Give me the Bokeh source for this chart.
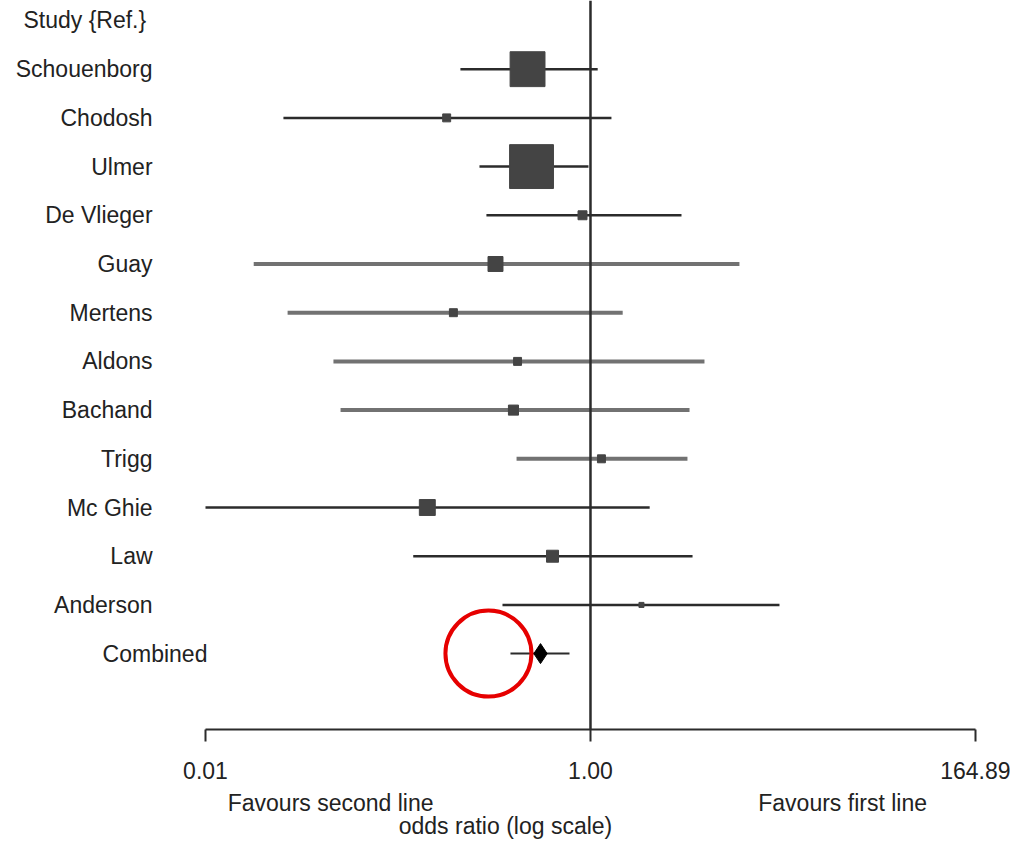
import numpy as np
from bokeh.plotting import figure
from bokeh.models import Range1d, LinearAxis, FixedTicker, Span, ColumnDataSource
from bokeh.core.properties import value
from bokeh.embed import file_html
from bokeh.resources import INLINE

# ---------------- data ----------------
header_label = "Study  {Ref.}"
studies = ["Schouenborg", "Chodosh", "Ulmer", "De Vlieger", "Guay", "Mertens",
           "Aldons", "Bachand", "Trigg", "Mc Ghie", "Law", "Anderson"]
odds_ratio = [0.471, 0.179, 0.494, 0.909, 0.321, 0.194, 0.418, 0.398, 1.14, 0.142, 0.635, 1.84]
ci_lower = [0.211, 0.0254, 0.265, 0.288, 0.0178, 0.0267, 0.0462, 0.0503, 0.413, 0.010, 0.120, 0.349]
ci_upper = [1.09, 1.285, 0.976, 2.97, 5.94, 1.47, 3.91, 3.27, 3.19, 2.03, 3.39, 9.59]
weight_pct = [28.8, 1.5, 45.6, 1.9, 5.3, 1.5, 1.5, 2.4, 1.5, 6.0, 3.4, 0.6]

combined_label = "Combined"
combined_or = 0.55
combined_lower = 0.384
combined_upper = 0.778

highlight_or = 0.295  # red circle annotation, on the "Combined" row

axis_tick_log10 = [-2, 0, 2]
axis_tick_labels = ["0.01", "1.00", "164.89"]
side_label_log10 = [-1.35, 1.31]
side_labels = ["Favours second line", "Favours first line"]
axis_title = "odds ratio (log scale)"

gray_studies = ["Guay", "Mertens", "Aldons", "Bachand", "Trigg"]

# ---------------- derived ----------------
n = len(studies)
rows = list(range(1, n + 1))
combined_row = n + 1

FONT = "Liberation Sans"
FS = "23px"
DARK = "#2b2b2b"
GRAY = "#727272"
TXT = "#222222"

src = ColumnDataSource(dict(
    study=studies,
    y=rows,
    est=np.log10(odds_ratio),
    lo=np.log10(ci_lower),
    hi=np.log10(ci_upper),
    size=6.5 * np.sqrt(weight_pct),
    color=[GRAY if s in gray_studies else DARK for s in studies],
    width=[4 if s in gray_studies else 2.5 for s in studies],
))

p = figure(width=1010, height=841, output_backend="svg", toolbar_location=None,
           x_range=Range1d(-3.065, 2.182), y_range=Range1d(14.558, -0.41),
           min_border_left=0, min_border_right=0, min_border_top=0, min_border_bottom=111,
           x_axis_location=None, y_axis_location=None)
p.outline_line_color = None
p.grid.visible = False
p.background_fill_color = "white"
p.border_fill_color = "white"

# reference line at OR = 1
p.add_layout(Span(location=0, dimension="height", line_color=DARK, line_width=2.5))

# CI lines
p.segment(x0="lo", x1="hi", y0="y", y1="y", line_color="color", line_width="width", source=src)
# study boxes
p.scatter(x="est", y="y", size="size", marker="square", fill_color="#444444",
          line_color="#444444", line_width=1, source=src)

# combined
p.segment(x0=[np.log10(combined_lower)], x1=[np.log10(combined_upper)],
          y0=[combined_row], y1=[combined_row], line_color=DARK, line_width=2)
p.scatter(x=[np.log10(combined_or)], y=[combined_row], size=20, marker="diamond",
          fill_color="black", line_color="black")

# labels
p.text(x=[-2.275] * n, y=rows, text=studies, text_align="right", text_baseline="middle",
       text_font=value(FONT), text_font_size=FS, text_color=TXT)
p.text(x=[-2.275], y=[0], text=[header_label], text_align="right", text_baseline="middle",
       text_font=value(FONT), text_font_size=FS, text_color=TXT)
p.text(x=[-1.99], y=[combined_row], text=[combined_label], text_align="right", text_baseline="middle",
       text_font=value(FONT), text_font_size=FS, text_color=TXT)

# red highlight circle
p.scatter(x=[np.log10(highlight_or)], y=[combined_row], size=86, marker="circle",
          fill_color=None, line_color="#e60000", line_width=4)

# main axis
ax = LinearAxis(ticker=FixedTicker(ticks=axis_tick_log10), bounds=(-2, 2))
ax.major_label_overrides = {t: l for t, l in zip(axis_tick_log10, axis_tick_labels)}
ax.axis_line_color = DARK
ax.axis_line_width = 2
ax.major_tick_line_color = DARK
ax.major_tick_line_width = 2
ax.major_tick_out = 12
ax.major_tick_in = 0
ax.minor_tick_out = 0
ax.minor_tick_in = 0
ax.major_label_standoff = 20
ax.major_label_text_font = FONT
ax.major_label_text_font_size = FS
ax.major_label_text_color = TXT
p.add_layout(ax, "below")

# side labels axis
ax2 = LinearAxis(ticker=FixedTicker(ticks=side_label_log10))
ax2.major_label_overrides = {t: l for t, l in zip(side_label_log10, side_labels)}
ax2.axis_line_color = None
ax2.major_tick_line_color = None
ax2.major_tick_out = 0
ax2.major_tick_in = 0
ax2.minor_tick_out = 0
ax2.minor_tick_in = 0
ax2.major_label_standoff = 8
ax2.major_label_text_font = FONT
ax2.major_label_text_font_size = FS
ax2.major_label_text_color = TXT
ax2.axis_label = axis_title
ax2.axis_label_standoff = -6
ax2.axis_label_text_font = FONT
ax2.axis_label_text_font_size = FS
ax2.axis_label_text_font_style = "normal"
ax2.axis_label_text_color = TXT
p.add_layout(ax2, "below")

open("out.html", "w").write(file_html(p, INLINE))
